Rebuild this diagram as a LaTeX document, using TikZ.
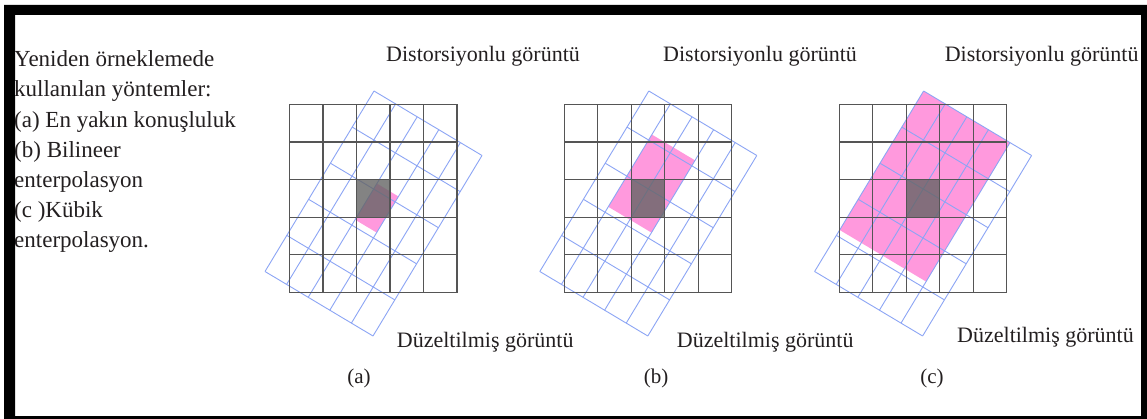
\documentclass[tikz,border=0pt]{standalone}
\usepackage{fontspec}
\setmainfont{Liberation Serif}
\definecolor{gridgray}{RGB}{85,85,85}
\definecolor{latblue}{RGB}{140,165,245}
\definecolor{pinkfill}{RGB}{255,153,221}
\definecolor{darkcell}{RGB}{100,100,100}
\definecolor{inkblack}{RGB}{35,31,32}
\begin{document}
\begin{tikzpicture}[
        x=1pt, y=-1pt,
        lefttxt/.style={anchor=base west, inner sep=0pt, text=inkblack, font=\fontsize{23}{28}\selectfont},
        lbl/.style={anchor=base west, inner sep=0pt, text=inkblack, font=\fontsize{22}{26}\selectfont},
        sublbl/.style={anchor=base, inner sep=0pt, text=inkblack, font=\fontsize{21}{25}\selectfont},
        blackgrid/.style={draw=gridgray, line width=1.2pt},
        bluegrid/.style={draw=latblue, line width=0.9pt},
        pinkcell/.style={fill=pinkfill},
        centrecell/.style={fill=darkcell, fill opacity=0.8}
    ]
    \fill[white] (0,0) rectangle (1147,419);
    \useasboundingbox (0,0) rectangle (1147,419);

    \node (l1) [lefttxt] at (14,66.7) {Yeniden örneklemede};
    \node (l2) [lefttxt] at (14,96.9) {kullanılan yöntemler:};
    \node (l3) [lefttxt] at (14,127.1) {(a) En yakın konuşluluk};
    \node (l4) [lefttxt] at (14,157.3) {(b) Bilineer};
    \node (l5) [lefttxt] at (14,187.5) {enterpolasyon};
    \node (l6) [lefttxt] at (14,217.7) {(c )Kübik};
    \node (l7) [lefttxt] at (14,247.9) {enterpolasyon.};

    \foreach \ox/\ci/\cj/\ni/\nj in {289.5/2/1.85/1/1, 564.3/1/0.85/2/2, 839.1/0/0/4/3.85} {
        \begin{scope}[shift={(\ox,104.5)}]
            \begin{scope}[shift={(84.5,-13.5)}, x={(21.6pt,-12.9pt)}, y={(-21.8pt,-36.1pt)}]
                \fill[pinkcell] (\ci,\cj) -- ({\ci+\ni},\cj) -- ({\ci+\ni},{\cj+\nj}) -- (\ci,{\cj+\nj}) -- cycle;
                \foreach \k in {0,...,5} {
                    \draw[bluegrid] (\k,0) -- (\k,5);
                    \draw[bluegrid] (0,\k) -- (5,\k);
                }
            \end{scope}
            \begin{scope}[x=33.5pt, y=-37.6pt]
                \fill[centrecell] (2,2) rectangle (3,3);
                \foreach \k in {0,...,5} {
                    \draw[blackgrid] (\k,0) -- (\k,5);
                    \draw[blackgrid] (0,\k) -- (5,\k);
                }
            \end{scope}
        \end{scope}
    }

    \node (dist-a) [lbl] at (386,62) {Distorsiyonlu görüntü};
    \node (dist-b) [lbl] at (663,62) {Distorsiyonlu görüntü};
    \node (dist-c) [lbl] at (944.6,62) {Distorsiyonlu görüntü};
    \node (duz-a) [lbl] at (396.7,347) {Düzeltilmiş görüntü};
    \node (duz-b) [lbl] at (676.7,347) {Düzeltilmiş görüntü};
    \node (duz-c) [lbl] at (957,342) {Düzeltilmiş görüntü};
    \node (cap-a) [sublbl] at (359,383) {(a)};
    \node (cap-b) [sublbl] at (656,383) {(b)};
    \node (cap-c) [sublbl] at (932,383) {(c)};

    \fill[black, even odd rule] (4,5) rectangle (1147,419) (15,15) rectangle (1141,416);
\end{tikzpicture}
\end{document}
